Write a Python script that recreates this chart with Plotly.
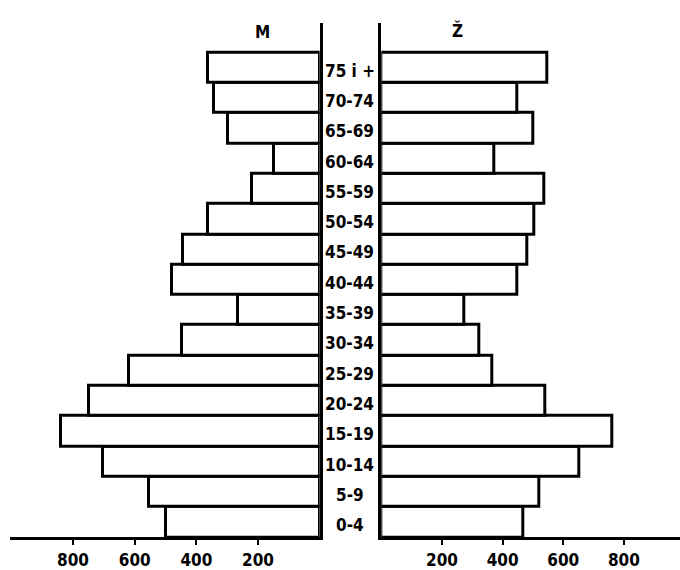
import plotly.graph_objects as go

age_groups = ["0-4", "5-9", "10-14", "15-19", "20-24", "25-29", "30-34", "35-39",
              "40-44", "45-49", "50-54", "55-59", "60-64", "65-69", "70-74", "75 i +"]
male = [498, 553, 702, 838, 748, 618, 447, 265, 479, 443, 362, 220, 149, 298, 343, 362]
female = [467, 522, 652, 762, 541, 365, 324, 273, 450, 481, 503, 536, 372, 500, 447, 547]
tick_vals = [200, 400, 600, 800]
tick_text = ["200", "400", "600", "800"]

W, H = 680, 570
FONT = "DejaVu Sans Condensed, Liberation Sans Narrow, Arial Narrow, sans-serif"

ypos = list(range(len(age_groups)))

fig = go.Figure()
fig.add_trace(go.Bar(
    y=ypos, x=male, orientation="h", width=1,
    marker=dict(color="white", line=dict(color="black", width=3)),
    xaxis="x", yaxis="y", showlegend=False, hoverinfo="x+text", text=age_groups,
    textposition="none",
))
fig.add_trace(go.Bar(
    y=ypos, x=female, orientation="h", width=1,
    marker=dict(color="white", line=dict(color="black", width=3)),
    xaxis="x2", yaxis="y2", showlegend=False, hoverinfo="x+text", text=age_groups,
    textposition="none",
))

# pixel-based layout helpers
def px_x(p):
    return p / W

def px_y(p):
    return 1 - p / H

left_zero, left_slope = 319.7, 0.3083
right_zero, right_slope = 381.3, 0.3033
left_end = 10
right_end = 680

y_dom = [px_y(543), px_y(23)]
bar_top_px = 53
unit_px = (543 - bar_top_px) / 16.0
y_top = 15.5 + (bar_top_px - 23) / unit_px

axis_common = dict(
    showgrid=False, zeroline=False, showline=True, linecolor="black", linewidth=3,
    ticks="outside", ticklen=5, tickwidth=2, tickcolor="black",
    tickvals=tick_vals, ticktext=tick_text,
    tickfont=dict(family=FONT, size=17, color="black", weight="bold"),
)

fig.update_layout(
    width=W, height=H,
    margin=dict(l=0, r=0, t=0, b=0),
    paper_bgcolor="white", plot_bgcolor="rgba(0,0,0,0)",
    bargap=0,
    xaxis=dict(domain=[px_x(left_end), px_x(left_zero)],
               range=[(left_zero - left_end) / left_slope, 0],
               anchor="y", **axis_common),
    yaxis=dict(domain=y_dom, range=[-0.5, y_top], side="right",
               showgrid=False, zeroline=False, showticklabels=False, ticks="",
               showline=True, linecolor="black", linewidth=3, anchor="x"),
    xaxis2=dict(domain=[px_x(right_zero), px_x(right_end)],
                range=[0, (right_end - right_zero) / right_slope],
                anchor="y2", **axis_common),
    yaxis2=dict(domain=y_dom, range=[-0.5, y_top], side="left",
                showgrid=False, zeroline=False, showticklabels=False, ticks="",
                showline=True, linecolor="black", linewidth=3, anchor="x2"),
    font=dict(family=FONT, color="black"),
)

# age group labels in the central column
for i, lab in enumerate(age_groups):
    fig.add_annotation(
        x=px_x(350), xref="paper", y=i - 0.1, yref="y",
        text=lab, showarrow=False, xanchor="center", yanchor="middle",
        font=dict(family=FONT, size=17, color="black", weight="bold"),
    )

fig.add_annotation(x=px_x(262), xref="paper", y=px_y(32), yref="paper",
                   text="M", showarrow=False, xanchor="center", yanchor="middle",
                   font=dict(family=FONT, size=17, color="black", weight="bold"))
fig.add_annotation(x=px_x(457), xref="paper", y=px_y(30), yref="paper",
                   text="Ž", showarrow=False, xanchor="center", yanchor="middle",
                   height=26, valign="middle",
                   font=dict(family=FONT, size=17, color="black", weight="bold"))

fig.write_html("out.html",
               config={"displayModeBar": False},
               post_script="document.body.style.margin='0';document.body.style.overflow='hidden';")
